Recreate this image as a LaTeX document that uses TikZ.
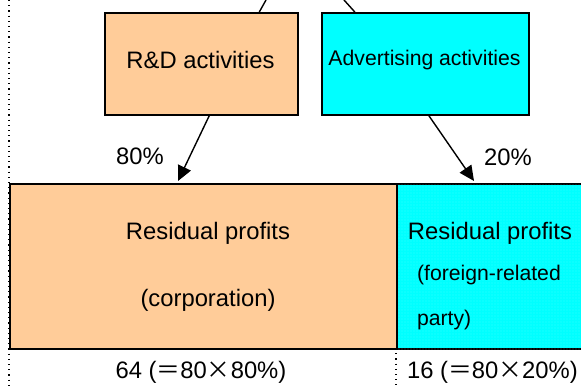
\documentclass[tikz,border=0pt]{standalone}
\usepackage{fontspec}
\setmainfont{Liberation Sans}
\newfontfamily\cjk{Noto Sans CJK JP}
\usetikzlibrary{arrows.meta,patterns.meta,calc}
\definecolor{peach}{HTML}{FFCC99}
\definecolor{aqua}{HTML}{00FFFF}
\begin{document}
\begin{tikzpicture}[x=0.5pt,y=-0.5pt,
  box/.style={draw=black,line width=0.8pt,inner sep=0pt,anchor=north west},
  big/.style={font=\fontsize{11.9}{14}\selectfont},
  small/.style={font=\fontsize{10.6}{13}\selectfont},
  arr/.style={line width=0.7pt,-{Triangle[width=7pt,length=7.5pt]}},
  guide/.style={line width=0.6pt,dotted}]
\clip (0,0) rectangle (581,385);
\fill[white] (0,0) rectangle (581,385);
% dotted guide lines
\coordinate (g1t) at (9,0);
\coordinate (g1b) at (9,385);
\coordinate (g2t) at (396,348);
\coordinate (g2b) at (396,385);
\draw[guide] (g1t) -- (g1b);
\draw[guide] (g2t) -- (g2b);
% top boxes
\node[box,fill=peach,minimum width=96.5pt,minimum height=51pt] (rd) at (104,12) {};
\node[big] (rdt) at (200.5,60) {R\&D activities};
\node[box,fill=aqua,minimum width=103.5pt,minimum height=51pt] (ad) at (321,12) {};
\node[small] (adt) at (424.5,60) {Advertising activities};
% lines from above
\coordinate (u1) at (266,0);
\coordinate (u2) at (344,0);
\draw[line width=0.7pt] ($(rd.north)+(58,0)$) -- (u1);
\draw[line width=0.7pt] ($(ad.north)+(-70.5,0)$) -- (u2);
% bottom boxes
\node[box,fill=peach,line width=1pt,minimum width=193.5pt,minimum height=82.5pt] (corp) at (9,183) {};
\node[box,fill=aqua,line width=1pt,minimum width=100pt,minimum height=82.5pt] (frp) at (396,183) {};
\fill[pattern={Dots[distance=1.5pt,radius=0.2pt]},pattern color=white!55!aqua] ($(frp.north west)+(1,1)$) rectangle ($(frp.south east)+(-1,-1)$);
\node[big] (c1) at (208,233) {Residual profits};
\node[big] (c2) at (208,300) {(corporation)};
\node[big] (f1) at (490,233) {Residual profits};
\node[small,anchor=west] (f2) at (410,275) {(foreign-related};
\node[small,anchor=west] (f3) at (410,320) {party)};
% arrows
\coordinate (a1s) at ($(rd.south)+(8,0)$);
\coordinate (a1e) at (178,181);
\coordinate (a2s) at ($(ad.south)+(3.5,0)$);
\coordinate (a2e) at (474,181);
\draw[arr] (a1s) -- (a1e);
\draw[arr] (a2s) -- (a2e);
\node[big] (p1) at (140,156) {80\%};
\node[big] (p2) at (508,157) {20\%};
% bottom labels
\node[big] (v1) at (201,372) {64 ({\cjk ＝}80{\cjk ×}80\%)};
\node[big,anchor=west] (v2) at (400,372) {16 ({\cjk ＝}80{\cjk ×}20\%)};
\end{tikzpicture}
\end{document}
